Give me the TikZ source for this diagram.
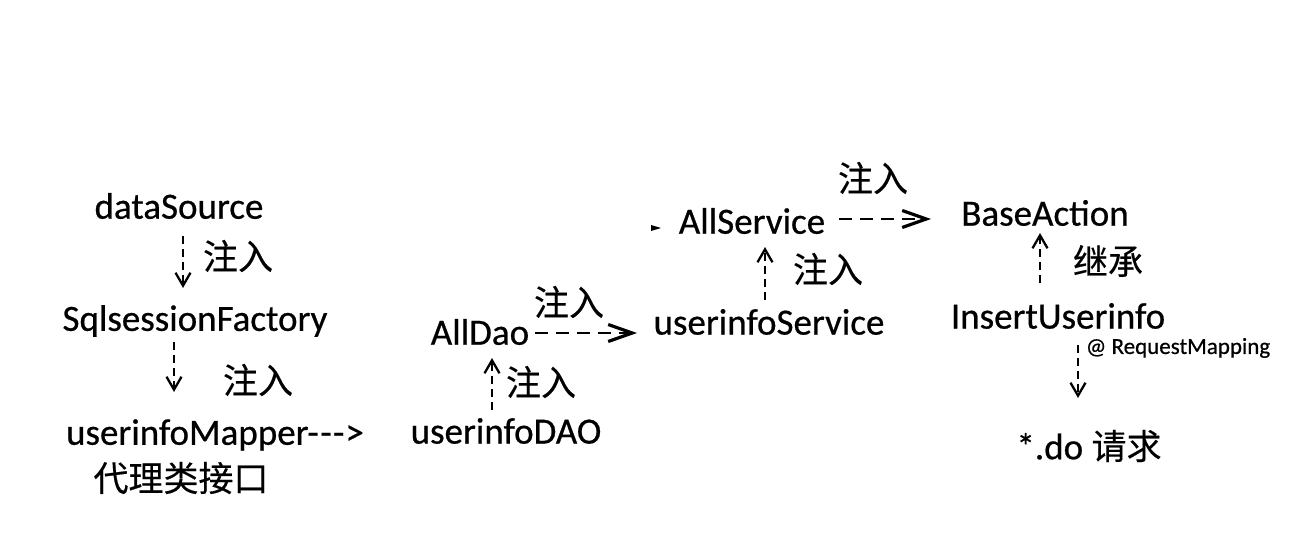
\documentclass[tikz,border=0pt]{standalone}
\usepackage{fontspec}
\setmainfont[FakeBold=0.6]{Carlito}
\newfontfamily\cjk[FakeBold=0.4]{Noto Sans CJK SC}
\usetikzlibrary{arrows.meta}
\begin{document}
\begin{tikzpicture}[x=1bp,y=-1bp,
  lbl/.style={inner sep=0pt, font=\fontsize{37bp}{40bp}\selectfont},
  zh/.style={inner sep=0pt, font=\cjk\fontsize{35bp}{38bp}\selectfont},
  small/.style={inner sep=0pt, font=\fontsize{23bp}{25bp}\selectfont},
  darr/.style={line width=1.9bp, dash pattern=on 8bp off 5bp,
    -{Straight Barb[length=13bp,width=15bp,line width=2.3bp]}},
  harr/.style={line width=2.4bp, dash pattern=on 13bp off 8bp,
    -{Straight Barb[length=24bp,width=17bp,line width=3.2bp]}}]
\useasboundingbox[fill=white] (0,0) rectangle (1309,540);
\node[lbl] (ds) at (179,206) {dataSource};
\node[zh] (z1) at (238,256) {注入};
\node[lbl] (sf) at (195,321) {SqlsessionFactory};
\node[zh] (z2) at (258,380) {注入};
\node[lbl] (um) at (215,435) {userinfoMapper{-}\kern1.5bp{-}\kern1.5bp{-}\kern1bp>};
\node[zh] (uml) at (181,478) {代理类接口};
\node[lbl] (ad) at (480,332) {AllDao};
\node[zh] (z3) at (569,302) {注入};
\node[lbl] (ud) at (506,431) {userinfoDAO};
\node[zh] (z4) at (541,382) {注入};
\node[lbl] (us) at (769,322) {userinfoService};
\node[zh] (z5) at (828,269) {注入};
\node[lbl] (as) at (752,221) {AllService};
\node[zh] (z6) at (873,178) {注入};
\node[lbl] (ba) at (1045,213) {BaseAction};
\node[zh] (z7) at (1108,261) {继承};
\node[lbl] (iu) at (1058,316) {InsertUserinfo};
\node[small] (rm) at (1178,348) {@ RequestMapping};
\node[lbl] (req) at (1089,446) {*.do {\cjk\fontsize{35bp}{38bp}\selectfont 请求}};
\fill (651,225) -- (661,228) -- (651,231) -- cycle;
\draw[darr] ([shift={(4,30)}]ds.center) -- ([shift={(-12,-33)}]sf.center);
\draw[darr] ([shift={(-21,21)}]sf.center) -- ([shift={(-41,-43)}]um.center);
\draw[darr] ([shift={(-14,-21)}]ud.center) -- ([shift={(12,26)}]ad.center);
\draw[darr] ([shift={(-4,-22)}]us.center) -- ([shift={(13,26)}]as.center);
\draw[darr] ([shift={(-18,-33)}]iu.center) -- ([shift={(-5,20)}]ba.center);
\draw[darr] ([shift={(20,29)}]iu.center) -- ([shift={(-11,-48)}]req.center);
\draw[harr] ([shift={(55,1)}]ad.center) -- ([shift={(-132,11)}]us.center);
\draw[harr] ([shift={(87,-2)}]as.center) -- ([shift={(-114,6)}]ba.center);
\end{tikzpicture}
\end{document}
